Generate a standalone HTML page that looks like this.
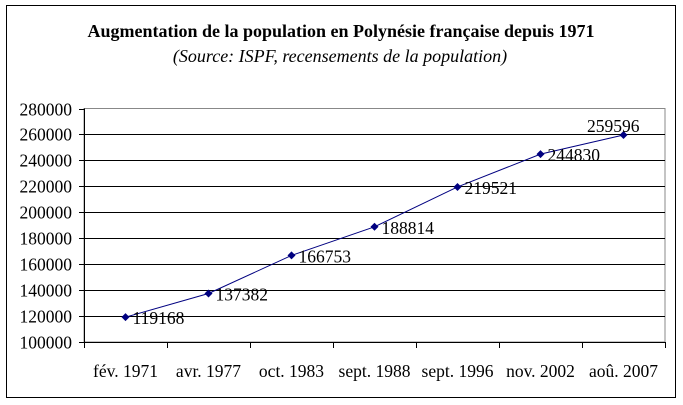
<!DOCTYPE html>
<html><head><meta charset="utf-8"><style>
body{margin:0;background:#fff}
svg{display:block;font-family:"Liberation Serif",serif}
</style></head><body>
<svg width="683" height="405">
<rect x="6.5" y="5.5" width="669" height="392" fill="#fff" stroke="#000"/>
<text x="341" y="37" text-anchor="middle" font-weight="bold" font-size="18">Augmentation de la population en Polynésie française depuis 1971</text>
<text x="340" y="62" text-anchor="middle" font-style="italic" font-size="18">(Source: ISPF, recensements de la population)</text>
<g id="plot"></g>
</svg>
<script>
const categories=["fév. 1971","avr. 1977","oct. 1983","sept. 1988","sept. 1996","nov. 2002","aoû. 2007"];
const values=[119168,137382,166753,188814,219521,244830,259596];
const yTicks=[100000,120000,140000,160000,180000,200000,220000,240000,260000,280000];
const L=84,R=665,T=108.5,B=342,yMin=100000,yMax=280000;
const ns="http://www.w3.org/2000/svg";
const g=document.getElementById('plot');
const bw=(R-L)/categories.length;
const xs=i=>L+bw*(i+0.5);
const ys=v=>B-(v-yMin)/(yMax-yMin)*(B-T);
function mk(t,a,p){const e=document.createElementNS(ns,t);for(const k in a)e.setAttribute(k,a[k]);(p||g).appendChild(e);return e;}
const pr=mk('rect',{x:L,y:T,width:R-L,height:B-T,fill:'none',stroke:'#888'});


yTicks.forEach(v=>{const y=Math.round(ys(v))+0.5;
 if(v>yMin&&v<yMax){const l=mk('line',{x1:L,x2:R,y1:y,y2:y,stroke:'#000'});
 
 }
 mk('line',{x1:L-5,x2:L,y1:y,y2:y,stroke:'#000'});
 const t=mk('text',{x:L-12,y:y+6,'text-anchor':'end','font-size':'17.5'});t.textContent=v;
 
 
});
mk('line',{x1:L+0.5,x2:L+0.5,y1:T,y2:B,stroke:'#000'});
mk('line',{x1:L,x2:R,y1:B+0.5,y2:B+0.5,stroke:'#000'});
for(let i=0;i<=categories.length;i++){const x=Math.round(L+bw*i)+0.5;mk('line',{x1:x,x2:x,y1:B,y2:B+6,stroke:'#000'});}
categories.forEach((c,i)=>{const t=mk('text',{x:xs(i),y:B+35,'text-anchor':'middle','font-size':'17.5'});t.textContent=c;
 
 });
const line=mk('polyline',{points:values.map((v,i)=>xs(i)+','+ys(v)).join(' '),fill:'none',stroke:'#000080','stroke-width':'1'});


values.forEach((v,i)=>{const x=xs(i),y=ys(v);
 const m=mk('polygon',{points:`${x},${y-4} ${x+4},${y} ${x},${y+4} ${x-4},${y}`,fill:'#000080'});
 
 
 const last=i===values.length-1;
 const t=mk('text',last?{x:x+16,y:y-3,'text-anchor':'end','font-size':'17.5'}:{x:x+7,y:y+7,'font-size':'17.5'});t.textContent=v;
 
 
});
</script>
</body></html>
